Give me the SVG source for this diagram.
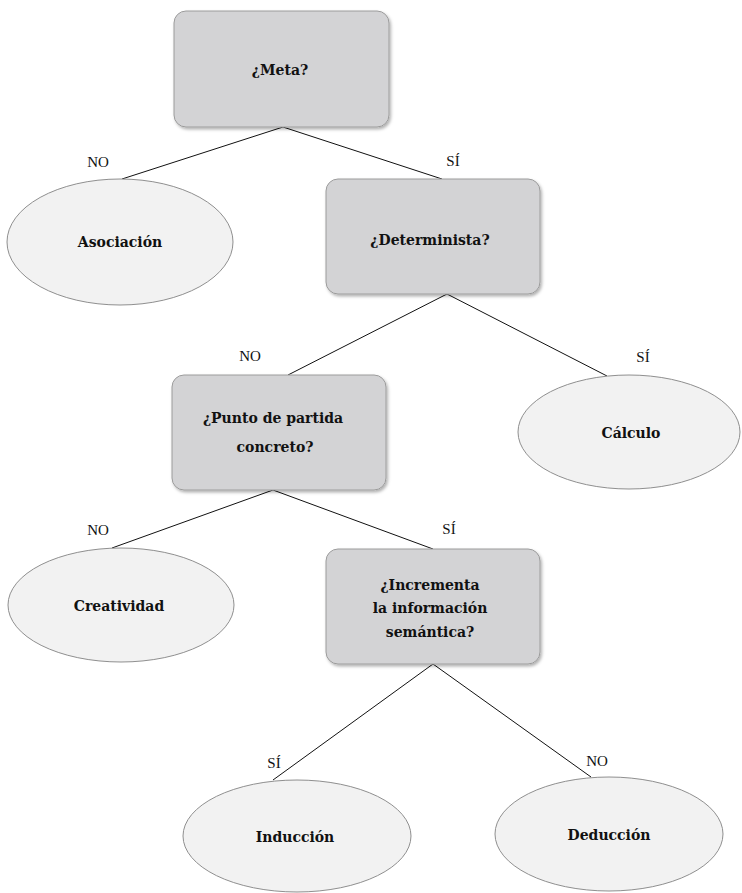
<svg xmlns="http://www.w3.org/2000/svg" width="742" height="893" viewBox="0 0 742 893">
<style>
.box{fill:#d3d3d5;stroke:#9c9c9c;stroke-width:1}
.ell{fill:#f2f2f2;stroke:#8f8f8f;stroke-width:1}
.t{font-family:"DejaVu Serif","Liberation Serif",serif;font-weight:bold;font-size:14px;fill:#111;text-anchor:middle}
.lb{font-family:"Liberation Serif",serif;font-size:15px;fill:#111;text-anchor:middle}
.c line{stroke:#111;stroke-width:1}
</style>
<defs>
<filter id="sh" x="-10%" y="-10%" width="125%" height="130%">
<feDropShadow dx="1.5" dy="2" stdDeviation="1.5" flood-color="#000" flood-opacity="0.3"/>
</filter>
</defs>
<rect width="742" height="893" fill="#fff"/>
<g class="c" id="connectors">
<line x1="283" y1="127" x2="122" y2="179"/>
<line x1="283" y1="127" x2="442" y2="179"/>
<line x1="447" y1="294" x2="288" y2="375"/>
<line x1="447" y1="294" x2="607" y2="376"/>
<line x1="273" y1="490" x2="112" y2="548"/>
<line x1="273" y1="490" x2="433" y2="549"/>
<line x1="433" y1="664" x2="273" y2="780"/>
<line x1="433" y1="664" x2="591" y2="777"/>
</g>
<g id="labels">
<text class="lb" x="98" y="167">NO</text>
<text class="lb" x="453" y="166">SÍ</text>
<text class="lb" x="250" y="361">NO</text>
<text class="lb" x="643" y="362">SÍ</text>
<text class="lb" x="98" y="535">NO</text>
<text class="lb" x="449" y="534">SÍ</text>
<text class="lb" x="274" y="768">SÍ</text>
<text class="lb" x="597" y="766">NO</text>
</g>
<g id="n-meta">
<rect class="box" x="174" y="11" width="215" height="116" rx="12" filter="url(#sh)"/>
<text class="t" x="280" y="75">¿Meta?</text>
</g>
<g id="n-asociacion">
<ellipse class="ell" cx="120" cy="242" rx="113" ry="63"/>
<text class="t" x="120" y="247">Asociación</text>
</g>
<g id="n-determinista">
<rect class="box" x="326" y="179" width="214" height="115" rx="12" filter="url(#sh)"/>
<text class="t" x="430" y="245">¿Determinista?</text>
</g>
<g id="n-punto">
<rect class="box" x="172" y="375" width="214" height="115" rx="12" filter="url(#sh)"/>
<text class="t" x="273" y="423">¿Punto de partida</text>
<text class="t" x="275" y="452">concreto?</text>
</g>
<g id="n-calculo">
<ellipse class="ell" cx="629" cy="432" rx="111" ry="57"/>
<text class="t" x="631" y="438">Cálculo</text>
</g>
<g id="n-creatividad">
<ellipse class="ell" cx="121" cy="605" rx="113" ry="57"/>
<text class="t" x="119" y="611">Creatividad</text>
</g>
<g id="n-incrementa">
<rect class="box" x="326" y="549" width="214" height="115" rx="12" filter="url(#sh)"/>
<text class="t" x="430" y="590">¿Incrementa</text>
<text class="t" x="430" y="613">la información</text>
<text class="t" x="430" y="637">semántica?</text>
</g>
<g id="n-induccion">
<ellipse class="ell" cx="297" cy="836" rx="114" ry="56"/>
<text class="t" x="295" y="842">Inducción</text>
</g>
<g id="n-deduccion">
<ellipse class="ell" cx="609" cy="834" rx="114" ry="57"/>
<text class="t" x="609" y="840">Deducción</text>
</g>
</svg>
